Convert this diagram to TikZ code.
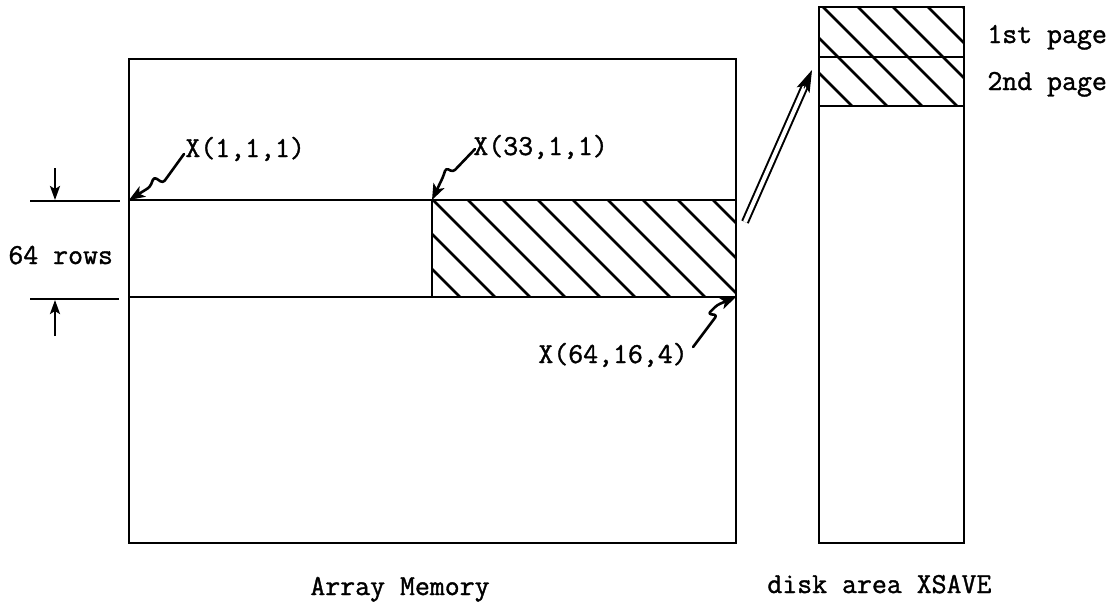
\documentclass[tikz,border=0pt]{standalone}
\usepackage{fontspec}
\usetikzlibrary{arrows.meta,calc}
\newfontfamily\twfam{Latin Modern Mono}[FakeBold=1.3]
\newcommand\twfont{\twfam\fontsize{14.5}{17}\selectfont}
\begin{document}
\begin{tikzpicture}[x=0.5pt,y=-0.5pt,
  frame/.style={line width=1.35pt, line join=miter},
  hatch/.style={line width=1.3pt},
  leader/.style={line width=1.3pt, line join=round, line cap=round, rounded corners=1.5pt,
    -{Stealth[length=8pt,width=6pt,inset=2pt]}},
  dimarrow/.style={line width=1.2pt, -{Stealth[length=7pt,width=5pt,inset=1.5pt]}},
  lbl/.style={font=\twfont, inner sep=0pt, anchor=base west}]
\useasboundingbox (0,0) rectangle (1120,602);

% ---- array memory ----
\coordinate (amNW) at (129,59);
\coordinate (amSE) at (736,543);
\coordinate (r1L) at (129,200); \coordinate (r1R) at (736,200);
\coordinate (r2L) at (129,297); \coordinate (r2R) at (736,297);
\coordinate (blkNW) at (432,200);
\coordinate (blkSW) at (432,297);
\begin{scope}
  \clip (blkNW) rectangle (r2R);
  \foreach \k in {-3,...,9} \draw[hatch] (433+35*\k,200) -- ++(110,110);
\end{scope}
\draw[frame] (amNW) rectangle (amSE);
\draw[frame] (r1L) -- (r1R);
\draw[frame] (r2L) -- (r2R);
\draw[frame] (blkNW) -- (blkSW);

% ---- 64 rows dimension ----
\coordinate (e1a) at (30,201); \coordinate (e1b) at (120,201);
\coordinate (e2a) at (30,299); \coordinate (e2b) at (119,299);
\draw[frame] (e1a) -- (e1b);
\draw[frame] (e2a) -- (e2b);
\coordinate (d1s) at (55,168); \coordinate (d1e) at (55,200);
\coordinate (d2s) at (55,336); \coordinate (d2e) at (55,300);
\draw[dimarrow] (d1s) -- (d1e);
\draw[dimarrow] (d2s) -- (d2e);
\node[lbl] (rows) at (8,264) {64 rows};

% ---- element labels with leaders ----
\node[lbl] (l1) at (185,157) {X(1,1,1)};
\node[lbl] (l2) at (473,155) {X(33,1,1)};
\node[lbl] (l3) at (538,363) {X(64,16,4)};
\draw[leader] ([shift={(-1,-3)}]l1.base west) -- ++(-21,29) -- ++(-9,-6) -- ++(-4,10) -- (r1L);
\draw[leader] ([shift={(2,-6)}]l2.base west) -- ++(-22,23) -- ++(-7,-4) -- ++(-3,9) -- (blkNW);
\draw[leader] ([shift={(5,-16)}]l3.base east) -- ++(24,-32) -- ++(-9,-1) -- ++(9,-9) -- (r2R);

% ---- transfer arrow ----
\coordinate (dtail) at (745,222);
\coordinate (dhead) at (812,70);
\draw[line width=1pt, double, double distance=2pt, shorten >=9pt] (dtail) -- (dhead);
\draw[-{Stealth[length=11pt,width=7pt,inset=2.5pt]}, line width=0.5pt] ($(dhead)!10pt!(dtail)$) -- (dhead);

% ---- disk area ----
\coordinate (dkNW) at (819,7);
\coordinate (dkSE) at (964,543);
\coordinate (p1L) at (819,57); \coordinate (p1R) at (964,57);
\coordinate (p2L) at (819,106); \coordinate (p2R) at (964,106);
\begin{scope}
  \clip (dkNW) rectangle (p2R);
  \foreach \k in {-3,...,4} \draw[hatch] (823+35*\k,7) -- ++(110,110);
\end{scope}
\draw[frame] (dkNW) rectangle (dkSE);
\draw[frame] (p1L) -- (p1R);
\draw[frame] (p2L) -- (p2R);
\node[lbl] (pg1) at (987,43) {1st page};
\node[lbl] (pg2) at (987,90) {2nd page};

% ---- captions ----
\node[lbl] (capA) at (310,595) {Array Memory};
\node[lbl] (capD) at (767,593) {disk area XSAVE};
\end{tikzpicture}
\end{document}
